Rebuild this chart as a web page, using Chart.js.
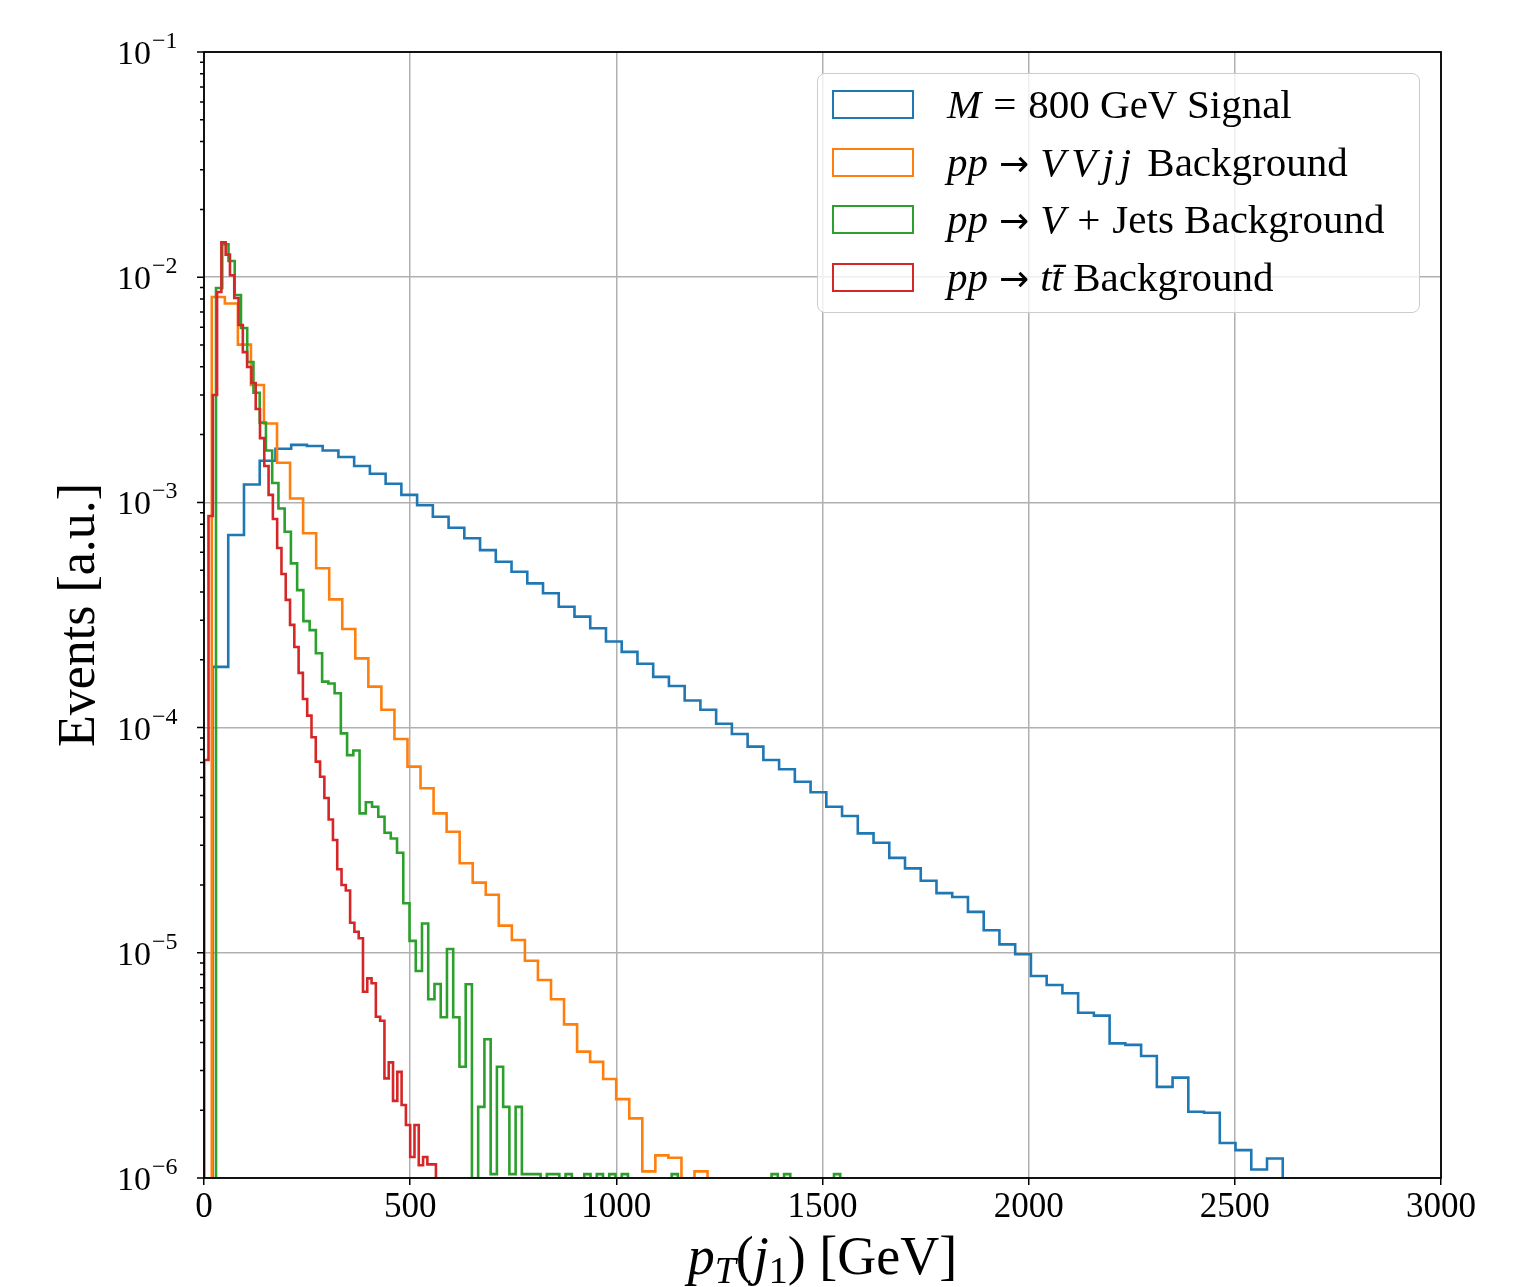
<!DOCTYPE html>
<html>
<head>
<meta charset="utf-8">
<script src="https://cdn.jsdelivr.net/npm/chart.js@4.4.0/dist/chart.umd.min.js"></script>
<style>
  html, body { margin: 0; padding: 0; background: #fff; }
  #wrap { position: relative; width: 1533px; height: 1287px; overflow: hidden; }
  #legend {
    position: absolute; left: 817px; top: 73px; width: 603px; height: 240px;
    box-sizing: border-box; border: 1.5px solid #cccccc; border-radius: 8px;
    background: rgba(255,255,255,0.8);
    font-family: "Liberation Serif", serif; font-size: 41px; color: #000;
  }
  .row { position: absolute; left: 0; height: 50px; line-height: 50px; white-space: nowrap; }
  .patch { position: absolute; left: 14px; width: 82px; height: 29px; box-sizing: border-box; border: 2.4px solid; }
  .txt { position: absolute; left: 129px; top: 0; }
  .op { margin: 0 12px; }
  .arr { font-family: "DejaVu Sans", sans-serif; font-size: 36px; margin: 0 11px; }
  .ls { letter-spacing: 6px; }
</style>
</head>
<body>
<div id="wrap">
  <canvas id="c" width="1533" height="1287"></canvas>
  <div id="legend"></div>
</div>
<script>
// histogram bin ranges [lo, hi] in GeV, values per bin (a.u.)
var sigRange = [20.6, 2616.2];
var signal = [
  1.86e-4, 7.17e-4, 1.20e-3, 1.53e-3, 1.73e-3, 1.80e-3, 1.78e-3, 1.70e-3, 1.59e-3, 1.45e-3,
  1.34e-3, 1.21e-3, 1.08e-3, 9.71e-4, 8.64e-4, 7.72e-4, 6.93e-4, 6.14e-4, 5.45e-4, 4.92e-4,
  4.37e-4, 3.95e-4, 3.44e-4, 3.11e-4, 2.76e-4, 2.41e-4, 2.17e-4, 1.92e-4, 1.68e-4, 1.53e-4,
  1.32e-4, 1.20e-4, 1.04e-4, 9.37e-5, 8.23e-5, 7.18e-5, 6.53e-5, 5.75e-5, 5.16e-5, 4.45e-5,
  4.05e-5, 3.39e-5, 3.08e-5, 2.64e-5, 2.37e-5, 2.09e-5, 1.84e-5, 1.77e-5, 1.52e-5, 1.26e-5,
  1.09e-5, 9.85e-6, 7.89e-6, 7.19e-6, 6.61e-6, 5.42e-6, 5.26e-6, 3.96e-6, 3.90e-6, 3.48e-6,
  2.54e-6, 2.79e-6, 1.97e-6, 1.95e-6, 1.43e-6, 1.33e-6, 1.09e-6, 1.22e-6
];

var vvjjRange = [18.9, 1221.2];
var vvjj = [
  8.17e-3, 7.64e-3, 5.02e-3, 3.32e-3, 2.24e-3, 1.50e-3, 1.04e-3, 7.29e-4, 5.10e-4, 3.71e-4,
  2.74e-4, 2.03e-4, 1.52e-4, 1.20e-4, 8.90e-5, 6.71e-5, 5.38e-5, 4.16e-5, 3.45e-5, 2.50e-5,
  2.05e-5, 1.81e-5, 1.32e-5, 1.14e-5, 9.22e-6, 7.57e-6, 6.22e-6, 4.81e-6, 3.64e-6, 3.28e-6,
  2.75e-6, 2.24e-6, 1.84e-6, 1.07e-6, 1.26e-6, 1.23e-6, 0, 1.07e-6
];

var vjetsRange = [29.1, 1543.0];
var vjets = [
  8.95e-3, 1.40e-2, 1.18e-2, 8.34e-3, 5.95e-3, 4.20e-3, 3.07e-3, 2.26e-3, 1.70e-3, 1.22e-3,
  9.39e-4, 7.41e-4, 5.36e-4, 4.08e-4, 2.97e-4, 2.71e-4, 2.14e-4, 1.60e-4, 1.57e-4, 1.42e-4,
  9.43e-5, 7.55e-5, 7.91e-5, 4.16e-5, 4.66e-5, 4.45e-5, 4.02e-5, 3.41e-5, 3.22e-5, 2.78e-5,
  1.66e-5, 1.13e-5, 8.30e-6, 1.35e-5, 6.22e-6, 7.27e-6, 5.17e-6, 1.04e-5, 5.17e-6, 3.12e-6,
  7.25e-6, 0, 2.07e-6, 4.13e-6, 1.04e-6, 3.12e-6, 2.07e-6, 1.04e-6, 2.07e-6, 1.04e-6,
  1.04e-6, 1.04e-6, 0, 1.04e-6, 1.04e-6, 0, 1.04e-6, 0, 0, 1.04e-6,
  0, 1.04e-6, 0, 1.04e-6, 0, 1.04e-6, 0, 0, 0, 0,
  0, 0, 0, 1.04e-6, 0, 0, 0, 0, 0, 0,
  0, 0, 0, 0, 0, 0, 0, 0, 0, 1.04e-6,
  0, 1.04e-6, 0, 0, 0, 0, 0, 0, 0, 1.04e-6
];

var ttRange = [0.5, 562.5];
var ttbar = [
  7.18e-5, 8.70e-4, 3.00e-3, 8.59e-3, 1.43e-2, 1.26e-2, 1.02e-2, 8.08e-3, 6.13e-3, 4.65e-3,
  3.99e-3, 3.39e-3, 2.60e-3, 1.93e-3, 1.45e-3, 1.08e-3, 8.44e-4, 6.27e-4, 4.81e-4, 3.69e-4,
  2.86e-4, 2.28e-4, 1.75e-4, 1.34e-4, 1.13e-4, 9.06e-5, 7.06e-5, 6.05e-5, 4.87e-5, 3.91e-5,
  3.17e-5, 2.35e-5, 2.00e-5, 1.89e-5, 1.36e-5, 1.24e-5, 1.16e-5, 6.72e-6, 7.70e-6, 7.32e-6,
  5.20e-6, 4.99e-6, 2.77e-6, 3.26e-6, 2.20e-6, 2.96e-6, 2.11e-6, 1.72e-6, 1.24e-6, 1.72e-6,
  1.14e-6, 1.24e-6, 1.15e-6, 1.15e-6
];

var xTicks = [0, 500, 1000, 1500, 2000, 2500, 3000];
var yTicks = [1e-6, 1e-5, 1e-4, 1e-3, 1e-2, 1e-1];
var yExp = [-6, -5, -4, -3, -2, -1];

// step outline: one point per left bin edge, held until the next edge
var FLOOR = 1e-9;
function histPoints(range, vals) {
  var n = vals.length, w = (range[1] - range[0]) / n;
  var pts = [{ x: range[0], y: FLOOR }];
  for (var i = 0; i < n; i++) pts.push({ x: range[0] + i * w, y: vals[i] > 0 ? vals[i] : FLOOR });
  pts.push({ x: range[1], y: FLOOR });
  return pts;
}

var SERIF = '"Liberation Serif", "DejaVu Serif", serif';

function runs(ctx, parts, x, y, align) {
  var w = 0;
  parts.forEach(function (p) { ctx.font = p[1]; w += ctx.measureText(p[0]).width; });
  var cx = align === 'center' ? x - w / 2 : (align === 'right' ? x - w : x);
  parts.forEach(function (p) {
    ctx.font = p[1];
    ctx.fillText(p[0], cx, y + (p[2] || 0));
    cx += ctx.measureText(p[0]).width;
  });
}

var decor = {
  id: 'decor',
  afterDraw: function (chart) {
    var ctx = chart.ctx, a = chart.chartArea;
    var ys = chart.scales.y;
    ctx.save();
    ctx.fillStyle = '#000';
    ctx.strokeStyle = '#000';
    // spines
    ctx.lineWidth = 1.8;
    ctx.strokeRect(a.left, a.top, a.right - a.left, a.bottom - a.top);
    // y ticks, major + minor
    ctx.lineWidth = 1.5;
    ctx.beginPath();
    yTicks.forEach(function (v, i) {
      var py = ys.getPixelForValue(v);
      ctx.moveTo(a.left, py); ctx.lineTo(a.left - 7, py);
      if (i < yTicks.length - 1) {
        for (var m = 2; m < 10; m++) {
          var my = ys.getPixelForValue(v * m);
          ctx.moveTo(a.left, my); ctx.lineTo(a.left - 4, my);
        }
      }
    });
    ctx.stroke();
    // y tick labels 10^k
    ctx.textBaseline = 'alphabetic';
    yTicks.forEach(function (v, i) {
      var py = ys.getPixelForValue(v);
      ctx.font = '34px ' + SERIF;
      ctx.textAlign = 'right';
      ctx.fillText('10', 151, py + 12);
      ctx.font = '24px ' + SERIF;
      ctx.textAlign = 'left';
      ctx.fillText('\u2212' + Math.abs(yExp[i]), 152, py - 4);
    });
    // axis labels
    ctx.textAlign = 'left';
    runs(ctx, [
      ['p', 'italic 54px ' + SERIF, 0],
      ['T', 'italic 38px ' + SERIF, 9],
      ['(', '54px ' + SERIF, 0],
      ['j', 'italic 54px ' + SERIF, 0],
      ['1', '38px ' + SERIF, 9],
      [')', '54px ' + SERIF, 0],
      [' [GeV]', '54px ' + SERIF, 0]
    ], (a.left + a.right) / 2, 1274, 'center');
    ctx.translate(80, (a.top + a.bottom) / 2);
    ctx.rotate(-Math.PI / 2);
    ctx.textAlign = 'center';
    ctx.textBaseline = 'middle';
    ctx.font = '52px ' + SERIF;
    ctx.fillText('Events [a.u.]', 0, 0);
    ctx.restore();
  }
};

function ds(label, range, vals, color, order) {
  return {
    label: label, data: histPoints(range, vals), borderColor: color, borderWidth: 2.6,
    stepped: 'before', pointRadius: 0, fill: false, tension: 0, clip: 0, order: order
  };
}

new Chart(document.getElementById('c'), {
  type: 'line',
  data: {
    datasets: [
      ds('M = 800 GeV Signal', sigRange, signal, '#1f77b4', 3),
      ds('pp \u2192 VVjj Background', vvjjRange, vvjj, '#ff7f0e', 2),
      ds('pp \u2192 V + Jets Background', vjetsRange, vjets, '#2ca02c', 1),
      ds('pp \u2192 tt Background', ttRange, ttbar, '#d62728', 0)
    ]
  },
  options: {
    responsive: false, animation: false, devicePixelRatio: 1,
    layout: { padding: { left: 0, right: 92, top: 52, bottom: 0 } },
    plugins: { legend: { display: false }, tooltip: { enabled: false } },
    scales: {
      x: {
        type: 'linear', min: 0, max: 3000,
        afterBuildTicks: function (s) { s.ticks = xTicks.map(function (v) { return { value: v }; }); },
        ticks: {
          color: '#000', font: { family: SERIF, size: 35 }, padding: 2, maxRotation: 0, autoSkip: false,
          callback: function (v) { return String(v); }
        },
        grid: { color: '#b0b0b0', lineWidth: 1.5, drawTicks: true, tickLength: 7, tickColor: '#000', tickWidth: 1.5 },
        border: { display: false },
        afterFit: function (s) { s.height = 109; }
      },
      y: {
        type: 'logarithmic', min: 1e-6, max: 1e-1,
        afterBuildTicks: function (s) { s.ticks = yTicks.map(function (v) { return { value: v }; }); },
        ticks: { display: false },
        grid: { color: '#b0b0b0', lineWidth: 1.5, drawTicks: false },
        border: { display: false },
        afterFit: function (s) { s.width = 204; }
      }
    }
  },
  plugins: [decor]
});

// legend (mixed italic / upright text)
var legendRows = [
  { color: '#1f77b4', html: '<i>M</i><span class="op">=</span>800 GeV Signal' },
  { color: '#ff7f0e', html: '<i>pp</i><span class="arr">\u2192</span><i class="ls">VVjj</i> Background' },
  { color: '#2ca02c', html: '<i>pp</i><span class="arr">\u2192</span><i>V</i><span class="op">+</span>Jets Background' },
  { color: '#d62728', html: '<i>pp</i><span class="arr">\u2192</span><i>tt\u0304</i> Background' }
];
var rowCenters = [30, 88, 145, 203];
var leg = document.getElementById('legend');
legendRows.forEach(function (r, i) {
  var row = document.createElement('div');
  row.className = 'row';
  row.style.top = (rowCenters[i] - 25) + 'px';
  row.style.width = '600px';
  row.innerHTML = '<div class="patch" style="top:11px;border-color:' + r.color + '"></div>' +
    '<div class="txt">' + r.html + '</div>';
  leg.appendChild(row);
});
</script>
</body>
</html>
